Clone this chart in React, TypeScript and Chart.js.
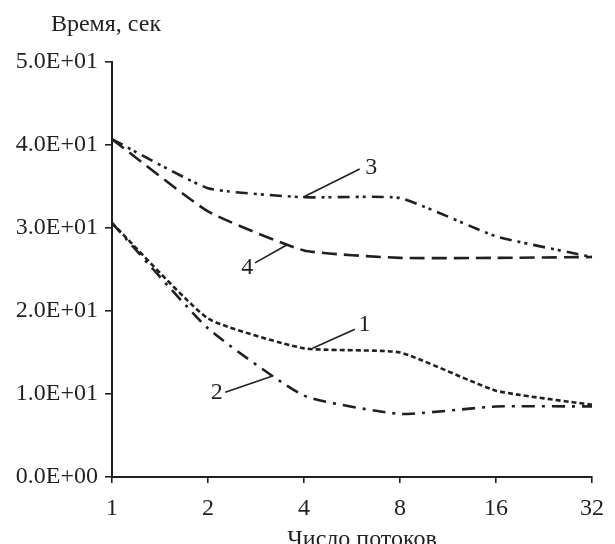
import React, { useEffect, useRef } from "react";
import { Chart, registerables } from "chart.js";

Chart.register(...registerables);

const threads = ["1", "2", "4", "8", "16", "32"];
const series1 = [30.6, 19.1, 15.5, 15.0, 10.4, 8.7];
const series2 = [30.6, 17.9, 9.8, 7.6, 8.5, 8.5];
const series3 = [40.7, 34.8, 33.7, 33.6, 29.0, 26.5];
const series4 = [40.7, 32.0, 27.3, 26.4, 26.4, 26.5];
const yTicks = [0, 10, 20, 30, 40, 50];

// callouts: label, line start (category index, value), line end, text position
const calloutLabels = ["1", "2", "3", "4"];
const calloutFrom = [[2.09, 15.5], [1.68, 12.2], [1.99, 33.7], [1.82, 27.95]];
const calloutTo = [[2.53, 17.8], [1.18, 10.2], [2.58, 37.1], [1.49, 25.8]];
const calloutText = [[2.63, 18.3], [1.09, 10.1], [2.7, 37.3], [1.41, 25.2]];

const yTitle = "Время, сек";
const xTitle = "Число потоков";

const INK = "#231f20";
const FONT = "'Liberation Serif', 'Times New Roman', serif";

function sci(v: number): string {
  const [m, e] = v.toExponential(1).split("e");
  const n = parseInt(e, 10);
  return m + "E" + (n < 0 ? "-" : "+") + String(Math.abs(n)).padStart(2, "0");
}

const annotate = {
  id: "annotate",
  afterDraw(chart: any) {
    const { ctx, chartArea, scales } = chart;
    const x = scales.x;
    const y = scales.y;
    ctx.save();
    ctx.strokeStyle = INK;
    ctx.fillStyle = INK;
    ctx.lineWidth = 1.6;
    ctx.setLineDash([]);
    ctx.font = `24px ${FONT}`;
    ctx.textAlign = "center";
    ctx.textBaseline = "middle";
    for (let i = 0; i < calloutLabels.length; i++) {
      ctx.beginPath();
      ctx.moveTo(x.getPixelForValue(calloutFrom[i][0]), y.getPixelForValue(calloutFrom[i][1]));
      ctx.lineTo(x.getPixelForValue(calloutTo[i][0]), y.getPixelForValue(calloutTo[i][1]));
      ctx.stroke();
      ctx.fillText(
        calloutLabels[i],
        x.getPixelForValue(calloutText[i][0]),
        y.getPixelForValue(calloutText[i][1])
      );
    }
    // axis titles
    ctx.font = `24px ${FONT}`;
    ctx.textBaseline = "alphabetic";
    ctx.textAlign = "center";
    ctx.fillText(yTitle, chartArea.left - 6, 31);
    ctx.fillText(xTitle, (chartArea.left + chartArea.right) / 2 + 10, 546);
    ctx.restore();
  },
};

export default function App() {
  const ref = useRef<HTMLCanvasElement>(null);
  useEffect(() => {
    if (!ref.current) return;
    const mk = (data: number[], dash: number[]) => ({
      data,
      borderColor: INK,
      borderWidth: 2.6,
      borderDash: dash,
      pointRadius: 0,
      tension: 0.15,
      fill: false,
    });
    const chart = new Chart(ref.current, {
      type: "line",
      data: {
        labels: threads,
        datasets: [
          mk(series1, [5, 3]),
          mk(series2, [13, 7, 3, 7]),
          mk(series3, [12, 6, 3, 4, 3, 6]),
          mk(series4, [15, 7]),
        ],
      },
      options: {
        responsive: false,
        animation: false,
        events: [],
        layout: { padding: { top: 62, right: 17, left: 0, bottom: 0 } },
        plugins: { legend: { display: false }, tooltip: { enabled: false } },
        scales: {
          x: {
            type: "category",
            offset: false,
            afterFit: (s: any) => {
              s.height = 67;
            },
            border: { display: true, color: INK, width: 2 },
            grid: {
              display: true,
              drawOnChartArea: false,
              drawTicks: true,
              tickLength: 6,
              color: INK,
              lineWidth: 1.6,
            },
            ticks: {
              color: INK,
              font: { family: FONT, size: 24 },
              padding: 11,
              maxRotation: 0,
            },
          },
          y: {
            min: 0,
            max: 50,
            afterFit: (s: any) => {
              s.width = 112;
            },
            afterBuildTicks: (s: any) => {
              s.ticks = yTicks.map((v) => ({ value: v }));
            },
            border: { display: true, color: INK, width: 2 },
            grid: {
              display: true,
              drawOnChartArea: false,
              drawTicks: true,
              tickLength: 7,
              color: INK,
              lineWidth: 1.6,
            },
            ticks: {
              color: INK,
              font: { family: FONT, size: 24 },
              padding: 7,
              callback: (v: any) => sci(Number(v)),
            },
          },
        },
      },
      plugins: [annotate],
    });
    return () => chart.destroy();
  }, []);
  return (
    <div style={{ position: "absolute", left: 0, top: 0, width: 615, height: 544, background: "#fff" }}>
      <canvas ref={ref} width={615} height={544} style={{ width: 615, height: 544 }} />
    </div>
  );
}
